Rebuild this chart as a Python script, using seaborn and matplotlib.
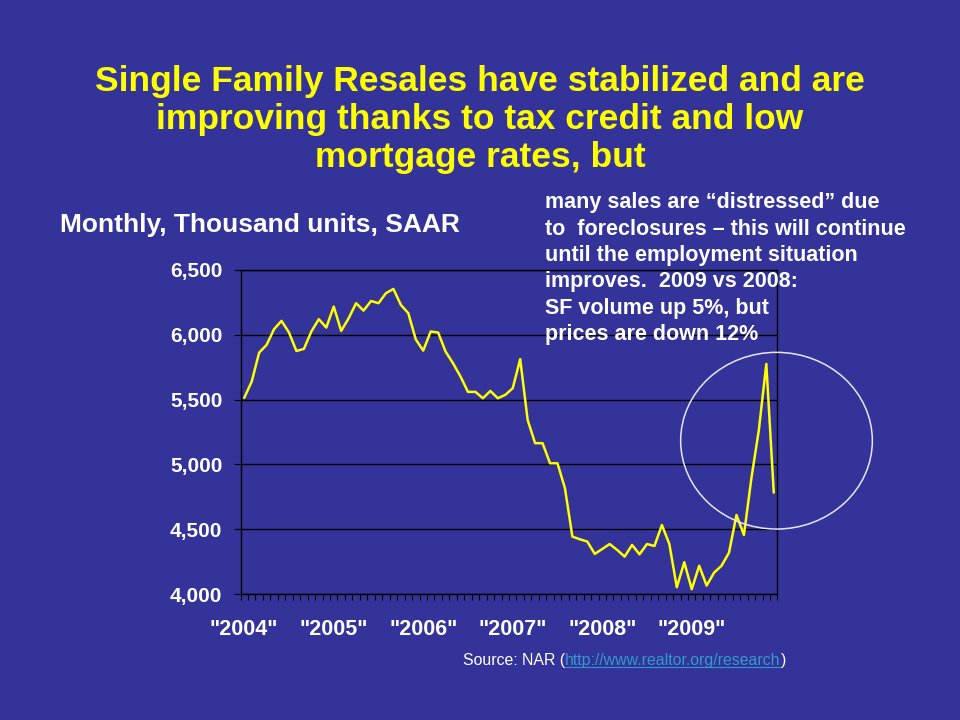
import numpy as np
import pandas as pd
import matplotlib
matplotlib.use('Agg')
import matplotlib.pyplot as plt
from matplotlib.patches import Ellipse
from matplotlib.lines import Line2D
from matplotlib.ticker import FuncFormatter
import seaborn as sns

sns.set_style('white')
plt.rcParams['font.family'] = ['Liberation Sans', 'DejaVu Sans']

# 单户住宅转售 (千套, SAAR), 2004-01 .. 2009-12
resales = [5513, 5638, 5861, 5921, 6042, 6106, 6016, 5874, 5890, 6024, 6119, 6054,
           6216, 6029, 6126, 6242, 6185, 6259, 6242, 6319, 6352, 6229, 6165, 5963,
           5877, 6024, 6016, 5869, 5779, 5677, 5559, 5559, 5510, 5566, 5510, 5536,
           5587, 5811, 5343, 5164, 5164, 5009, 5009, 4817, 4444, 4424, 4406, 4311,
           4349, 4387, 4342, 4290, 4380, 4308, 4387, 4372, 4534, 4387, 4054, 4247,
           4039, 4220, 4067, 4167, 4220, 4321, 4611, 4457, 4894, 5266, 5774, 4783]
month_idx = list(range(len(resales)))
year_labels = ['"2004"', '"2005"', '"2006"', '"2007"', '"2008"', '"2009"']
y_ticks = [4000, 4500, 5000, 5500, 6000, 6500]

title_lines = ['Single Family Resales have stabilized and are',
               'improving thanks to tax credit and low',
               'mortgage rates, but']
note_lines = ['many sales are \u201cdistressed\u201d due',
              'to  foreclosures \u2013 this will continue',
              'until the employment situation',
              'improves.  2009 vs 2008:',
              'SF volume up 5%, but',
              'prices are down 12%']

bg = '#333399'
W, H = 960, 720

df = pd.DataFrame({'month': month_idx, 'resales': resales})

fig = plt.figure(figsize=(9.6, 7.2), dpi=100, facecolor=bg)
ax = fig.add_axes([240.5 / W, 1 - 594.3 / H, 537 / W, 324.6 / H])
ax.set_facecolor(bg)

sns.lineplot(data=df, x='month', y='resales', color='#FFFF00', lw=1.8, ax=ax)

ax.set_xlim(-0.5, len(resales) - 0.5)
ax.set_ylim(4000, 6500)
ax.set_xlabel('')
ax.set_ylabel('')

# x 轴: 年份标签每 12 个月, 每月一个小刻度
ax.set_xticks(range(0, len(resales), 12))
ax.set_xticklabels(year_labels)
ax.set_xticks(np.arange(-0.5, len(resales), 1), minor=True)
ax.tick_params(axis='x', which='major', length=0, pad=18,
               labelsize=15.5, labelcolor='white')
ax.tick_params(axis='x', which='minor', length=4, width=0.8, color='black',
               direction='out', bottom=True)
for lab in ax.get_xticklabels():
    lab.set_fontweight('bold')

ax.set_yticks(y_ticks)
ax.yaxis.set_major_formatter(FuncFormatter(lambda v, p: f'{int(v):,}'))
ax.tick_params(axis='y', length=5, width=0.8, color='black', direction='out',
               left=True, pad=8, labelsize=15, labelcolor='white')
for lab in ax.get_yticklabels():
    lab.set_fontweight('bold')

ax.grid(axis='y', color='black', lw=1)
ax.grid(axis='x', visible=False)
for s in ax.spines.values():
    s.set_color('black')
    s.set_linewidth(1)

# 标题
for y, line in zip([91.5, 129.5, 167], title_lines):
    fig.text(0.5, 1 - y / H, line, ha='center', va='baseline', color='#FFFF00',
             fontsize=25.5, fontweight='bold')

fig.text(60 / W, 1 - 232 / H, 'Monthly, Thousand units, SAAR', ha='left',
         va='baseline', color='white', fontsize=19, fontweight='bold')

for y, line in zip([208, 234.5, 261, 287.5, 314, 340], note_lines):
    fig.text(545 / W, 1 - y / H, line, ha='left', va='baseline', color='white',
             fontsize=15.5, fontweight='bold', zorder=5)

# 圈出 2009 年末的跳升
fig.add_artist(Ellipse((776.5 / W, 1 - 440.7 / H), 191.7 / W, 176.7 / H,
                       transform=fig.transFigure, fill=False,
                       ec='#E6E6F5', lw=1.1, zorder=6))

# 数据来源
t1 = fig.text(463 / W, 1 - 665 / H, 'Source: NAR (', ha='left', va='baseline',
              color='white', fontsize=11.4)
fig.canvas.draw()
r = fig.canvas.get_renderer()
bb1 = t1.get_window_extent(r)
t2 = fig.text(bb1.x1 / W, 1 - 665 / H, 'http://www.realtor.org/research',
              ha='left', va='baseline', color='#3399CC', fontsize=11.4)
fig.canvas.draw()
bb2 = t2.get_window_extent(r)
t3 = fig.text(bb2.x1 / W, 1 - 665 / H, ')', ha='left', va='baseline',
              color='white', fontsize=11.4)
uy = 1 - 667 / H
fig.add_artist(Line2D([bb2.x0 / W, bb2.x1 / W], [uy, uy],
                      transform=fig.transFigure, color='#3399CC', lw=0.8))

fig.savefig('out.png', dpi=100, facecolor=bg)
